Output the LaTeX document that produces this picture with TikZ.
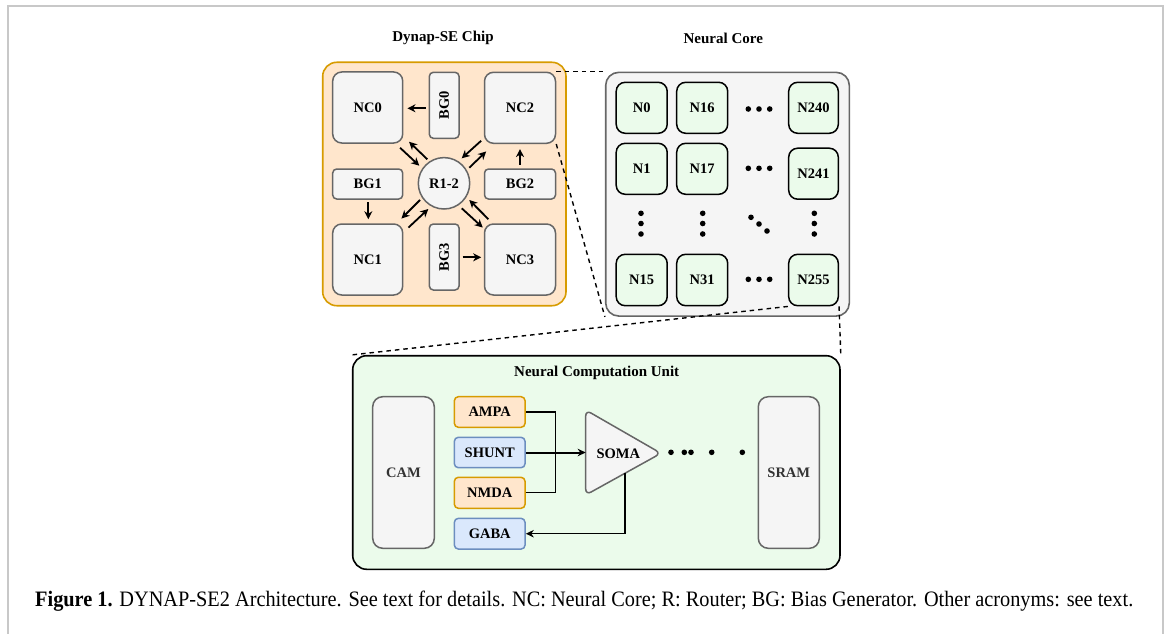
\documentclass[tikz,border=0pt]{standalone}
\usepackage{fontspec}
\setmainfont{Liberation Serif}
\usetikzlibrary{arrows.meta,calc}
\definecolor{peach}{HTML}{FFE6CC}
\definecolor{peachline}{HTML}{D79B00}
\definecolor{greyfill}{HTML}{F5F5F5}
\definecolor{greyline}{HTML}{666666}
\definecolor{bluefill}{HTML}{DAE8FC}
\definecolor{blueline}{HTML}{6C8EBF}
\definecolor{greenfill}{HTML}{EBFBEB}
\definecolor{framegrey}{HTML}{C8C8C8}
\definecolor{softtext}{HTML}{333333}
\begin{document}
\begin{tikzpicture}[x=1pt,y=-1pt,
  lbl/.style={font=\fontsize{14.5}{17}\selectfont\bfseries},
  greybox/.style={draw=greyline, fill=greyfill, line width=1.5pt, rounded corners=9pt, inner sep=0pt, lbl},
  bgbox/.style={greybox, rounded corners=4pt},
  nbox/.style={draw=black, fill=greenfill, line width=1.5pt, rounded corners=9pt, minimum width=51pt, minimum height=51pt, inner sep=0pt, lbl},
  orbox/.style={draw=peachline, fill=peach, line width=1.5pt, rounded corners=4pt, minimum width=70.7pt, minimum height=30.6pt, inner sep=0pt, lbl},
  blbox/.style={orbox, draw=blueline, fill=bluefill},
  arr/.style={line width=1.8pt, -{Stealth[length=8pt,width=8pt,inset=2.5pt]}},
  thinarr/.style={line width=1.3pt, -{Stealth[length=8pt,width=7.5pt,inset=2.5pt]}},
  dashline/.style={dash pattern=on 4.5pt off 4pt, line width=1.4pt},
  ttl/.style={font=\fontsize{15}{18}\selectfont\bfseries}
]
\useasboundingbox (0,0) rectangle (1167,634);
\draw[framegrey, line width=2pt] (8,634) -- (8,6) -- (1163,6) -- (1163,634);

% ---------------- Dynap-SE chip ----------------
\node[ttl] (chiptitle) at (443,38) {Dynap-SE Chip};
\node[draw=peachline, fill=peach, line width=1.6pt, rounded corners=14pt, minimum width=243.3pt, minimum height=243.4pt] (chip) at (444.35,184) {};
\node[greybox, minimum width=70pt, minimum height=71pt] (nc0) at (367.7,107.5) {NC0};
\node[greybox, minimum width=71pt, minimum height=71pt] (nc2) at (520,107.8) {NC2};
\node[greybox, minimum width=70pt, minimum height=71pt] (nc1) at (367.7,259.5) {NC1};
\node[greybox, minimum width=71pt, minimum height=71pt] (nc3) at (520,259.5) {NC3};
\node[bgbox, rotate=90, minimum width=66pt, minimum height=29.7pt] (bg0) at (444.2,105.3) {BG0};
\node[bgbox, rotate=90, minimum width=66pt, minimum height=29.7pt] (bg3) at (444.2,257) {BG3};
\node[bgbox, minimum width=70pt, minimum height=30pt] (bg1) at (367.7,184) {BG1};
\node[bgbox, minimum width=71pt, minimum height=30pt] (bg2) at (520,184) {BG2};
\node[circle, draw=greyline, fill=greyfill, line width=1.5pt, minimum size=51.4pt, inner sep=0pt, lbl] (r) at (444,183.3) {R1-2};

% bg0.north is its visual left side, bg3.south its visual right side (rotated nodes)
\draw[arr] ([shift={(-3,3)}]bg0.north) -- ([shift={(4,0.8)}]nc0.east);
\draw[arr] ([shift={(0.6,2.7)}]bg1.south) -- ([shift={(0.6,-4)}]nc1.north);
\draw[arr] ([shift={(0,-3.3)}]bg2.north) -- ([shift={(0,5)}]nc2.south);
\draw[arr] ([shift={(2.7,0.3)}]bg3.south) -- ([shift={(-2.6,-2.2)}]nc3.west);

\draw[arr] ([shift={(-3.4,4)}]nc0.south east) -- ([shift={(-24.7,-17.6)}]r.center);
\draw[arr] ([shift={(-16.7,-24)}]r.center) -- ([shift={(5.6,-2)}]nc0.south east);
\draw[arr] ([shift={(-2.6,-3.3)}]nc2.south west) -- ([shift={(17.7,-25)}]r.center);
\draw[arr] ([shift={(25.3,-15.6)}]r.center) -- ([shift={(2.4,7.4)}]nc2.south west);
\draw[arr] ([shift={(-24,16.7)}]r.center) -- ([shift={(-2,-4.7)}]nc1.north east);
\draw[arr] ([shift={(5,4.3)}]nc1.north east) -- ([shift={(-15.7,25.7)}]r.center);
\draw[arr] ([shift={(17.7,25)}]r.center) -- ([shift={(-1,4.3)}]nc3.north west);
\draw[arr] ([shift={(4.7,-4)}]nc3.north west) -- ([shift={(25.3,16.7)}]r.center);

% ---------------- Neural core ----------------
\node[ttl] (coretitle) at (723.3,38.3) {Neural Core};
\node[draw=greyline, fill=greyfill, line width=1.6pt, rounded corners=13pt, minimum width=243.6pt, minimum height=243.7pt] (core) at (727.5,194.2) {};
\node[nbox] (n0) at (641.7,107.8) {N0};
\node[nbox] (n16) at (702.2,107.8) {N16};
\node[nbox, minimum width=49.6pt] (n240) at (813.5,107.8) {N240};
\node[nbox] (n1) at (641.7,168.8) {N1};
\node[nbox] (n17) at (702.2,168.8) {N17};
\node[nbox, minimum width=49.6pt] (n241) at (813.5,173.7) {N241};
\node[nbox, minimum height=51.4pt] (n15) at (641.7,280) {N15};
\node[nbox, minimum height=51.4pt] (n31) at (702.2,280) {N31};
\node[nbox, minimum width=49.6pt, minimum height=51.4pt] (n255) at (813.5,280) {N255};
\foreach \yy in {109,168.3,279.3}{
  \foreach \xx in {748.3,759,769.7}{ \fill (\xx,\yy) circle (2.8pt); }
}
\foreach \xx in {641,702.7,814.3}{
  \foreach \yy in {213.3,223.5,234}{ \fill (\xx,\yy) circle (2.8pt); }
}
\fill (751,217.3) circle (2.8pt);
\fill (759,224) circle (2.8pt);
\fill (767,231) circle (2.8pt);

% ---------------- zoom lines ----------------
\draw[dashline] (nc2.north east) -- (core.north west);
\draw[dashline] (nc2.south east) -- (core.south west);

% ---------------- Neural computation unit ----------------
\node[draw=black, fill=greenfill, line width=1.6pt, rounded corners=14pt, minimum width=487.3pt, minimum height=213.6pt] (ncu) at (596.35,462.5) {};
\draw[dashline] (n255.south west) -- (ncu.north west);
\draw[dashline] (n255.south east) -- (ncu.north east);
\node[ttl] (ncutitle) at (596.7,373.3) {Neural Computation Unit};
\node[greybox, rounded corners=10pt, minimum width=61.6pt, minimum height=151.6pt, text=softtext] (cam) at (403.5,472.5) {CAM};
\node[greybox, rounded corners=10pt, minimum width=61pt, minimum height=151.6pt, text=softtext] (sram) at (788.8,472.5) {SRAM};
\node[orbox] (ampa) at (489.7,412) {AMPA};
\node[blbox, minimum height=30.4pt] (shunt) at (489.7,452.5) {SHUNT};
\node[orbox, minimum height=31pt] (nmda) at (489.7,492.8) {NMDA};
\node[blbox, minimum height=30.7pt] (gaba) at (489.7,533.7) {GABA};
\draw[greyline, fill=greyfill, line width=1.5pt, rounded corners=6pt] (585.7,410) -- (661,453.3) -- (585.7,495) -- cycle;
\node[lbl] (soma) at (618.3,453.3) {SOMA};
\coordinate (somaL) at (585.7,452.5);
\coordinate (jn) at (555.7,452.5);
\coordinate (somaB) at (625,473);
\draw[line width=1.3pt] (ampa.east) -| (jn);
\draw[line width=1.3pt] (nmda.east) -| (jn);
\draw[thinarr, line width=2pt] (shunt.east) -- (somaL);
\draw[thinarr] (somaB) |- (gaba.east);
\foreach \xx in {671,684.3,691,711.7,742.3}{ \fill (\xx,452.3) circle (2.8pt); }

% ---------------- caption ----------------
\node[anchor=base west, inner sep=0pt] (caption) at (35,606) {\resizebox{1098pt}{15.5pt}{\fontsize{20}{24}\selectfont\textbf{Figure 1.} DYNAP-SE2 Architecture. See text for details. NC: Neural Core; R: Router; BG: Bias Generator. Other acronyms: see text.}};
\end{tikzpicture}
\end{document}
